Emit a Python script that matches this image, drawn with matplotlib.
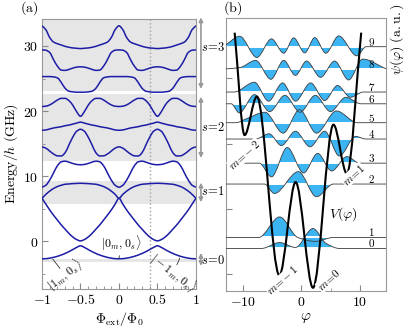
import numpy as np
import matplotlib; matplotlib.use("Agg")
import matplotlib.pyplot as plt
from matplotlib.path import Path
from matplotlib.patches import PathPatch

plt.rcParams['mathtext.fontset'] = 'cm'
plt.rcParams['font.family'] = 'DejaVu Serif'

# ---- panel (a): bands, read on half period 0..0.5 (symmetric, period 1)
PHI_HALF = [0, .05, .1, .15, .2, .25, .3, .35, .4, .45, .5]
BANDS = [
    [-2.7, -2.68, -2.6, -2.48, -2.32, -2.12, -1.88, -1.6, -1.28, -0.95, -0.7],
    [6.6, 5.7, 4.8, 4.0, 3.25, 2.5, 1.85, 1.2, 0.65, 0.25, 0.05],
    [6.6, 7.2, 7.7, 8.1, 8.4, 8.6, 8.75, 8.8, 8.85, 8.88, 8.9],
    [8.3, 8.6, 9.4, 10.5, 11.6, 12.2, 12.3, 12.15, 11.95, 11.8, 11.75],
    [14.5, 14.3, 13.85, 13.4, 13.12, 13.1, 13.6, 14.8, 16.0, 16.9, 17.2],
    [17.05, 17.1, 17.25, 17.4, 17.5, 17.6, 17.75, 17.85, 18.0, 18.15, 18.3],
    [20.7, 20.75, 20.95, 21.3, 21.7, 21.95, 21.95, 21.6, 20.9, 19.9, 19.2],
    [25.3, 25.3, 25.3, 25.25, 25.1, 24.4, 23.5, 23.05, 22.95, 22.9, 22.9],
    [29.4, 29.35, 29.0, 27.9, 26.9, 26.3, 26.25, 26.4, 26.6, 26.75, 26.8],
    [33.1, 32.5, 31.3, 30.6, 30.35, 30.15, 29.95, 29.8, 29.7, 29.65, 29.6],
]
S_SPANS = [(23.1, 34.2), (12.4, 22.6), (5.73, 9.26), (-3.19, -2.72)]
S_ARROWS = [(23.4, 34.4), (12.8, 22.2), (6.0, 9.0), (-3.8, -1.8)]
S_LABELS = ['$s\\!=\\!3$', '$s\\!=\\!2$', '$s\\!=\\!1$', '$s\\!=\\!0$']
S_LABEL_E = [29.7, 17.5, 7.6, -3.0]
PHI_CUT = 0.4
A_XTICKS = [-1, -0.5, 0, 0.5, 1]
A_XTICKLABELS = ['$-1$', '$-0.5$', '$0$', '$0.5$', '$1$']
A_YTICKS = [0, 10, 20, 30]
A_YTICKLABELS = ['$0$', '$10$', '$20$', '$30$']

# ---- panel (b): potential and wavefunctions at PHI_CUT
V_PHI = [-11.4, -9.7, -7.6, -3.75, -0.97, 2.0, 5.5, 7.8, 10.25]
V_E = [32.0, 16.3, 22.2, -5.2, 9.1, -7.1, 17.9, 10.4, 32.0]
LEVELS = [-1.07, 0.61, 8.8, 12.0, 15.7, 18.2, 21.1, 22.9, 26.45, 29.85]
PSI_PHI = [
    [-12.9, -6.8, -3.7, -1.0, 2.0, 4.2, 6.5, 14.5],
    [-12.9, -7.3, -3.7, -0.6, 2.4, 5.5, 14.5],
    [-12.9, -6.3, -4.6, -0.5, 2.6, 5.5, 14.5],
    [-12.9, -7.2, -5.1, -2.4, 0.4, 2.8, 5.2, 7.8, 10.0, 14.5],
    [-12.9, -7.8, -5.5, -3.4, -1.0, 1.5, 4.0, 6.5, 9.3, 11.0, 14.5],
    [-12.9, -11.2, -9.4, -6.2, -3.1, -0.3, 2.6, 6.0, 9.6, 14.5],
    [-12.9, -12.0, -10.6, -8.0, -5.4, -2.8, -0.2, 2.4, 5.0, 7.6, 10.2, 14.5],
    [-12.9, -11.5, -8.0, -5.6, -3.2, -1.0, 1.6, 4.0, 6.2, 8.4, 10.6, 14.5],
    [-12.9, -10.5, -7.8, -5.2, -3.0, -1.0, 0.9, 3.3, 5.7, 8.1, 10.5, 14.5],
    [-12.9, -10.55, -7.6, -5.1, -3.0, -1.3, 0.6, 2.3, 4.2, 6.4, 9.5, 11.1, 14.5],
]
PSI_AMP = [
    [0, 0, 0.9, 0.15, 3.05, 0.8, 0, 0],
    [0, 0, 3.15, 0, -0.6, 0, 0],
    [0, 0, -1.45, 1.9, -1.95, 0, 0],
    [0, 0, -2.1, 2.4, -1.5, 1.5, -1.2, 1.0, 0, 0],
    [0, 0, 0.8, -1.0, 1.2, -1.2, 1.2, -2.6, 0.4, 0, 0],
    [0, 0, 0.6, 1.6, -1.6, 2.0, -1.6, 1.8, 0, 0],
    [0, 0, -1.4, 1.4, -1.2, 1.3, -1.3, 1.3, -1.2, 1.0, 0, 0],
    [0, 0, 1.5, -1.4, 1.4, -1.4, 1.4, -1.3, 1.0, -0.8, 0, 0],
    [0, 0.2, 1.3, -1.6, 1.3, -1.0, 1.2, -1.3, 1.2, -1.7, 1.5, 0],
    [0.3, 1.6, -1.65, 1.2, -1.0, 1.35, -0.95, 1.4, -1.0, 1.65, -1.4, 0, 0],
]
B_XTICKS = [-10, 0, 10]
B_XTICKLABELS = ['$-10$', '$0$', '$10$']
WELL_LABELS = ['$m\\!=\\!-2$', '$m\\!=\\!-1$', '$m\\!=\\!0$', '$m\\!=\\!1$']
WELL_POS = [(-9.7, 13.3), (-3.2, -5.9), (4.7, -5.9), (8.9, 10.2)]

BLUE_LINE = '#1c1ca6'
FILL = '#3cb4f2'


def smooth(x, y):
    # monotone cubic through the read points, drawn as Bezier segments
    x = np.asarray(x, float); y = np.asarray(y, float)
    h = np.diff(x); d = np.diff(y) / h
    m = np.zeros_like(y)
    m[0], m[-1] = d[0], d[-1]
    for k in range(1, len(x) - 1):
        if d[k-1] * d[k] > 0:
            w1, w2 = 2*h[k] + h[k-1], h[k] + 2*h[k-1]
            m[k] = (w1 + w2) / (w1/d[k-1] + w2/d[k])
    verts = [(x[0], y[0])]
    for k in range(len(x) - 1):
        verts += [(x[k] + h[k]/3, y[k] + m[k]*h[k]/3),
                  (x[k+1] - h[k]/3, y[k+1] - m[k+1]*h[k]/3),
                  (x[k+1], y[k+1])]
    codes = [Path.MOVETO] + [Path.CURVE4] * (3 * (len(x) - 1))
    return verts, codes


def full_period(vals):
    t = np.array(PHI_HALF); v = np.array(vals)
    xs = np.concatenate([-1 + t, -t[::-1][1:], t[1:], (1 - t[::-1])[1:]])
    ys = np.concatenate([v, v[::-1][1:], v[1:], v[::-1][1:]])
    return xs, ys


fig = plt.figure(figsize=(4.16, 3.33), dpi=100)
ax = fig.add_axes([0.101, 0.132, 0.370, 0.811])
bx = fig.add_axes([0.543, 0.126, 0.385, 0.820])

# ---------------- (a)
for lo, hi in S_SPANS:
    ax.axhspan(lo, hi, color='#e6e6e6', lw=0, zorder=0)
ax.axvline(PHI_CUT, color='#a0a0a0', ls=':', lw=1.0, zorder=1)
for band in BANDS:
    xs, ys = full_period(band)
    v, c = smooth(xs, ys)
    ax.add_patch(PathPatch(Path(v, c), fc='none', ec=BLUE_LINE, lw=1.1, zorder=3))
for (lo, hi), lab, ye in zip(S_ARROWS, S_LABELS, S_LABEL_E):
    ax.annotate('', xy=(1.065, lo), xytext=(1.065, hi), annotation_clip=False,
                arrowprops=dict(arrowstyle='<|-|>', color='#999999', lw=1.2,
                                shrinkA=0, shrinkB=0, mutation_scale=6))
    ax.text(1.06, ye, lab, fontsize=9, ha='left', va='center', clip_on=False)

ax.annotate('$|0_m,0_s\\rangle$', xy=(0, -2.65), xytext=(0.03, -0.3), fontsize=8.5,
            ha='center', va='center',
            arrowprops=dict(arrowstyle='-', color='#333333', lw=0.6, shrinkA=4, shrinkB=0))
ax.annotate('$|1_m,0_s\\rangle$', xy=(-0.86, -2.75), xytext=(-0.7, -5.2), fontsize=8.5,
            ha='center', va='center', rotation=38,
            arrowprops=dict(arrowstyle='-', color='#333333', lw=0.6, shrinkA=6, shrinkB=0))
ax.annotate('$|-1_m,0_s\\rangle$', xy=(0.79, -2.6), xytext=(0.71, -4.8), fontsize=8.5,
            ha='center', va='center', rotation=-38,
            arrowprops=dict(arrowstyle='-', color='#333333', lw=0.6, shrinkA=6, shrinkB=0))

ax.set_xlim(-1, 1); ax.set_ylim(-7.35, 34.15)
ax.set_xticks(A_XTICKS); ax.set_xticklabels(A_XTICKLABELS)
ax.set_yticks(A_YTICKS); ax.set_yticklabels(A_YTICKLABELS)
ax.set_xticks(np.arange(-1, 1.01, 0.1), minor=True)
ax.set_yticks([-5, 5, 15, 25], minor=True)
ax.set_xlabel('$\\Phi_\\mathrm{ext}/\\Phi_0$', fontsize=10, labelpad=2)
ax.set_ylabel('$\\mathrm{Energy}/h\\ \\mathrm{(GHz)}$', fontsize=10, labelpad=2)
fig.text(20 / 416, 1 - 8 / 333, '$\\mathrm{(a)}$', fontsize=10, ha='left', va='center')

# ---------------- (b)
for n, (E, ph, amp) in enumerate(zip(LEVELS, PSI_PHI, PSI_AMP)):
    v, c = smooth(ph, E + np.array(amp))
    fv = v + [(ph[-1], E), (ph[0], E), (ph[0], E)]
    fc = c + [Path.LINETO, Path.LINETO, Path.CLOSEPOLY]
    bx.add_patch(PathPatch(Path(fv, fc), fc=FILL, ec='none', lw=0, zorder=2))
    bx.plot([ph[0], ph[-1]], [E, E], color='white', lw=1.4, zorder=2.5)
    bx.add_patch(PathPatch(Path(v, c), fc='none', ec='#3a3a3a', lw=0.6, zorder=3))
    bx.text(12.0, E + 0.15, '$%d$' % n, fontsize=8, ha='center', va='baseline', zorder=4)

v, c = smooth(V_PHI, V_E)
bx.add_patch(PathPatch(Path(v, c), fc='none', ec='black', lw=1.5, zorder=5))
for lab, (px, py) in zip(WELL_LABELS, WELL_POS):
    bx.text(px, py, lab, fontsize=8, rotation=42, ha='center', va='center', zorder=6,
            bbox=dict(fc='white', ec='none', pad=0.2))
bx.text(7.1, 4.2, '$V(\\varphi)$', fontsize=10, ha='center', va='center', zorder=6)

bx.set_xlim(-12.9, 14.5); bx.set_ylim(-7.6, 34.25)
bx.set_xticks(B_XTICKS); bx.set_xticklabels(B_XTICKLABELS)
bx.set_xticks([-5, 5], minor=True)
bx.set_yticks([-5, 5, 15, 25]); bx.set_yticklabels([])
bx.set_xlabel('$\\varphi$', fontsize=11, labelpad=1)
fig.text(397 / 416, 1 - 3 / 333, '$\\psi(\\varphi)\\ \\mathrm{(a.u.)}$',
         rotation=90, fontsize=10, ha='center', va='top')
fig.text(223 / 416, 1 - 8 / 333, '$\\mathrm{(b)}$', fontsize=10, ha='left', va='center')

for a in (ax, bx):
    for s in a.spines.values():
        s.set_color('#999999'); s.set_linewidth(0.8)
    a.tick_params(which='both', direction='in', color='#888888', labelsize=10, pad=3)
    a.tick_params(which='major', length=4)
    a.tick_params(which='minor', length=2)

fig.savefig('out.png', dpi=100, facecolor='white')
